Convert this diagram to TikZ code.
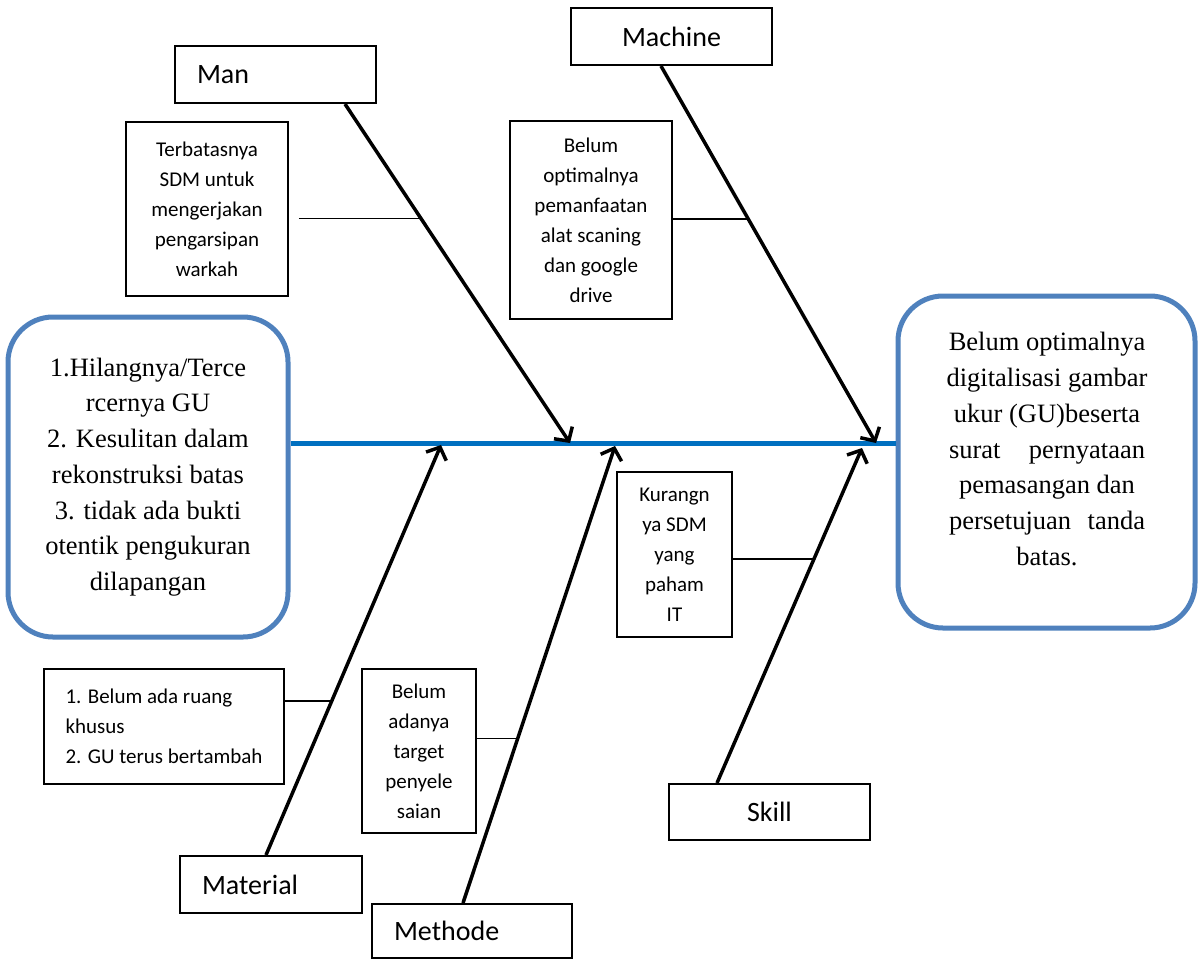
\documentclass[tikz,border=0pt]{standalone}
\usepackage{fontspec}
\setmainfont{Liberation Serif}
\newfontfamily\calibrifont{Carlito}
\usetikzlibrary{arrows.meta}
\definecolor{spineblue}{RGB}{0,112,192}
\definecolor{boxblue}{RGB}{79,129,189}
\begin{document}
\begin{tikzpicture}[x=1pt,y=-1pt,
  labelbox/.style={draw, line width=2pt, inner sep=0pt, font=\calibrifont\fontsize{28}{34}\selectfont},
  causebox/.style={draw, line width=1.8pt, inner sep=0pt, align=center, font=\calibrifont\fontsize{21}{30}\selectfont},
  roundbox/.style={draw=boxblue, line width=5pt, rounded corners=45pt, inner sep=0pt, align=center, font=\fontsize{26.5}{35.7}\selectfont},
  bone/.style={line width=3.5pt, -{Straight Barb[length=10pt,width=22pt]}},
  twig/.style={line width=1.8pt},
  spine/.style={draw=spineblue, line width=5pt}]
\useasboundingbox (0,0) rectangle (1198,961);

% category boxes
\node[labelbox, minimum width=201pt, minimum height=57pt, text width=157pt, align=left] (man) at (275.5,74.5) {Man};
\node[labelbox, minimum width=201pt, minimum height=57pt, align=center] (machine) at (671.5,36.5) {Machine};
\node[labelbox, minimum width=182pt, minimum height=57pt, text width=138pt, align=left] (material) at (271,884.5) {Material};
\node[labelbox, minimum width=200pt, minimum height=54pt, text width=156pt, align=left] (methode) at (472,931) {Methode};
\node[labelbox, minimum width=201pt, minimum height=56pt, align=center] (skill) at (769.5,812) {Skill};

% cause boxes
\node[causebox, minimum width=162pt, minimum height=174pt] (c1) at (207,209) {Terbatasnya\\SDM untuk\\mengerjakan\\pengarsipan\\warkah};
\node[causebox, minimum width=162pt, minimum height=198pt] (c2) at (591,220) {Belum\\optimalnya\\pemanfaatan\\alat scaning\\dan google\\drive};
\node[causebox, minimum width=240pt, minimum height=115pt, align=left] (c3) at (164,726.5) {1. Belum ada ruang\\khusus\\2. GU terus bertambah};
\node[causebox, minimum width=114pt, minimum height=164pt] (c4) at (419,751) {Belum\\adanya\\target\\penyele\\saian};
\node[causebox, minimum width=115pt, minimum height=165pt] (c5) at (674.5,554.5) {Kurangn\\ya SDM\\yang\\paham\\IT};

% problem (left) and effect (right)
\node[roundbox, minimum width=280pt, minimum height=320pt] (problem) at (148,477) {1.Hilangnya/Terce\\rcernya GU\\2. Kesulitan dalam\\rekonstruksi batas\\3. tidak ada bukti\\otentik pengukuran\\dilapangan};
\node[roundbox, minimum width=297pt, minimum height=332pt] (effect) at (1046.5,462) {};
\node[align=center, inner sep=0pt, font=\fontsize{26.5}{35.9}\selectfont] (effecttext) at (1047,449) {Belum optimalnya\\digitalisasi gambar\\ukur (GU)beserta\\\makebox[196pt]{surat\hfill pernyataan}\\pemasangan dan\\\makebox[196pt]{persetujuan\hfill tanda}\\batas.};

% spine
\coordinate (spineref) at (0,443);
\draw[spine] (problem.east |- spineref) -- (effect.west |- spineref);

% arrow tips on the spine
\coordinate (manTip) at (570,443);
\coordinate (machineTip) at (876,443);
\coordinate (materialTip) at (441,445);
\coordinate (methodeTip) at (615,446);
\coordinate (skillTip) at (862,448);

% bones
\draw[bone] ([xshift=171pt]man.south west) -- (manTip);
\draw[bone] ([xshift=91pt]machine.south west) -- (machineTip);
\draw[bone] ([xshift=87pt]material.north west) -- (materialTip);
\draw[bone] ([xshift=92pt]methode.north west) -- (methodeTip);
\draw[bone] ([xshift=49pt]skill.north west) -- (skillTip);

% twig points on the bones
\path ([xshift=171pt]man.south west) -- (manTip) coordinate[pos=0.338] (manTwig);
\path ([xshift=91pt]machine.south west) -- (machineTip) coordinate[pos=0.405] (machineTwig);
\path ([xshift=87pt]material.north west) -- (materialTip) coordinate[pos=0.375] (materialTwig);
\path ([xshift=92pt]methode.north west) -- (methodeTip) coordinate[pos=0.360] (methodeTwig);
\path ([xshift=49pt]skill.north west) -- (skillTip) coordinate[pos=0.669] (skillTwig);

% twigs
\draw[twig] ([xshift=10pt]c1.east |- manTwig) -- (manTwig);
\draw[twig] (c2.east |- machineTwig) -- (machineTwig);
\draw[twig] (c3.east |- materialTwig) -- (materialTwig);
\draw[twig] (c4.east |- methodeTwig) -- (methodeTwig);
\draw[twig] (c5.east |- skillTwig) -- (skillTwig);
\end{tikzpicture}
\end{document}
